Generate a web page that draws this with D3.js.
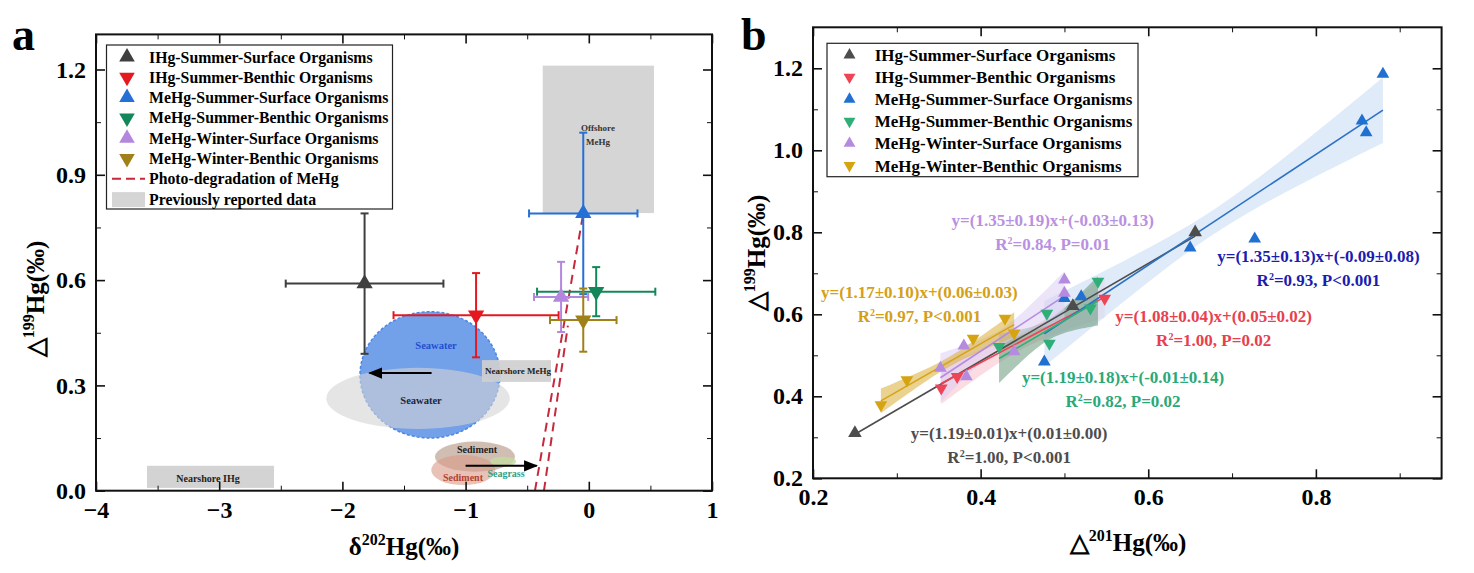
<!DOCTYPE html>
<html>
<head>
<meta charset="utf-8">
<style>
  body { margin: 0; background: #fff; }
  svg text { font-family: "Liberation Serif", "Times New Roman", serif; font-weight: bold; }
</style>
</head>
<body>
<div id="chart"></div>
<script src="https://d3js.org/d3.v7.min.js"></script>
<script>
// ---------- data: panel a ----------
const seriesNames = ["IHg-Summer-Surface Organisms", "IHg-Summer-Benthic Organisms",
  "MeHg-Summer-Surface Organisms", "MeHg-Summer-Benthic Organisms",
  "MeHg-Winter-Surface Organisms", "MeHg-Winter-Benthic Organisms"];
const aX    = [-1.82, -0.915, -0.045, 0.06, -0.225, -0.045];
const aY    = [0.59, 0.50, 0.79, 0.567, 0.552, 0.486];
const aXErr = [0.64, 0.67, 0.44, 0.48, 0.22, 0.27];
const aYErr = [0.20, 0.12, 0.23, 0.07, 0.10, 0.09];

const regionNames = ["Offshore MeHg", "Nearshore MeHg", "Nearshore IHg"];
const regionX0 = [-0.374, -0.867, -3.586];
const regionX1 = [0.529, -0.307, -2.555];
const regionY0 = [0.791, 0.31, 0.008];
const regionY1 = [1.211, 0.372, 0.071];

const ellNames = ["Seawater", "Seawater", "Sediment", "Sediment", "Seagrass"];
const ellCx = [-1.289, -1.386, -0.924, -1.019, -0.696];
const ellCy = [0.33, 0.263, 0.097, 0.059, 0.083];
const ellRx = [0.568, 0.745, 0.325, 0.26, 0.105];
const ellRy = [0.18, 0.087, 0.043, 0.043, 0.014];

// photo-degradation lines, from the x axis up to (x1, y1)
const photoX0 = [-0.437, -0.364];
const photoX1 = [-0.045, -0.17];
const photoY1 = [0.79, 0.47];

const aXTicks = [-4, -3, -2, -1, 0, 1];
const aYTicks = [0, 0.3, 0.6, 0.9, 1.2];

// ---------- data: panel b ----------
const bX = [
  [0.25, 0.51, 0.656],
  [0.353, 0.372, 0.548],
  [0.476, 0.50, 0.52, 0.65, 0.727, 0.855, 0.86, 0.88],
  [0.422, 0.479, 0.482, 0.531, 0.54],
  [0.352, 0.38, 0.383, 0.44, 0.50, 0.50],
  [0.281, 0.312, 0.391, 0.429, 0.44]
];
const bY = [
  [0.31, 0.62, 0.80],
  [0.42, 0.448, 0.639],
  [0.484, 0.639, 0.643, 0.762, 0.784, 1.072, 1.043, 1.186],
  [0.521, 0.602, 0.529, 0.615, 0.68],
  [0.469, 0.523, 0.448, 0.509, 0.652, 0.684],
  [0.379, 0.44, 0.541, 0.59, 0.554]
];
const slopes = [1.19, 1.08, 1.35, 1.19, 1.35, 1.17];
const intercepts = [0.01, 0.05, -0.09, -0.01, -0.03, 0.06];
const bandCenter = [0, 0.02, 0.03, 0.025, 0.02, 0.012];
const bandEnd = [0, 0.05, 0.08, 0.06, 0.06, 0.03];
const eqText = ["y=(1.19±0.01)x+(0.01±0.00)", "y=(1.08±0.04)x+(0.05±0.02)",
  "y=(1.35±0.13)x+(-0.09±0.08)", "y=(1.19±0.18)x+(-0.01±0.14)",
  "y=(1.35±0.19)x+(-0.03±0.13)", "y=(1.17±0.10)x+(0.06±0.03)"];
const r2Values = ["1.00", "1.00", "0.93", "0.82", "0.84", "0.97"];
const pValues = ["P<0.001", "P=0.02", "P<0.001", "P=0.02", "P=0.01", "P<0.001"];
const eqAtX = [0.434, 0.678, 0.803, 0.57, 0.486, 0.327];
const eqAtY = [0.31, 0.596, 0.742, 0.446, 0.83, 0.655];

const bXTicks = [0.2, 0.4, 0.6, 0.8];
const bYTicks = [0.2, 0.4, 0.6, 0.8, 1.0, 1.2];

// colours
const colorsA = ["#3f3f3f", "#e3191f", "#2470d6", "#13875a", "#b387dd", "#a08018"];
const colorsB = ["#4d4d4d", "#ee4455", "#2070d2", "#2fae78", "#b58be0", "#d6a312"];
const eqColors = ["#4d4d4d", "#e8404e", "#1c1cb0", "#2aa878", "#b990e2", "#d4a017"];
const bandColors = ["#999", "#f7bfcc", "#d3e3f6", "#5a8f6c", "#dccdf3", "#d8ae36"];
const bandOpac = [0, 0.55, 0.7, 0.5, 0.55, 0.55];

const W = 1474, H = 573;
const svg = d3.select("#chart").append("svg").attr("width", W).attr("height", H);

const tri = d3.symbol().type(d3.symbolTriangle);
const isUp = n => n.includes("Surface");

function frame(g, x, y, major, minorX, minorY, fmtX, fmtY, fs) {
  const [x0, x1] = x.range(), [y0, y1] = y.range();
  const ax = g.append("g");
  // inward ticks on all four sides
  const sides = [
    [d3.axisBottom(x), y0, "x"], [d3.axisTop(x), y1, "x"],
    [d3.axisLeft(y), x0, "y"], [d3.axisRight(y), x1, "y"]
  ];
  sides.forEach(([a, pos, k], i) => {
    const t = k === "x" ? `translate(0,${pos})` : `translate(${pos},0)`;
    const vals = k === "x" ? major[0] : major[1];
    const mins = k === "x" ? minorX : minorY;
    ax.append("g").attr("transform", t)
      .call(a.tickValues(mins).tickSize(-5).tickFormat(""))
      .call(s => s.select(".domain").remove());
    const gg = ax.append("g").attr("transform", t)
      .call(a.tickValues(vals).tickSize(-9).tickPadding(10)
        .tickFormat(i < 2 ? fmtX : fmtY))
      .call(s => s.select(".domain").remove());
    gg.selectAll("line").attr("stroke-width", 1.6);
    gg.selectAll("text").attr("font-size", fs).attr("fill", "#000")
      .attr("font-family", "Liberation Serif").attr("font-weight", "bold");
    if (i % 2 === 1) gg.selectAll("text").remove();
  });
  ax.selectAll("line").attr("stroke", "#111");
  g.append("rect").attr("x", x0).attr("y", y1).attr("width", x1 - x0).attr("height", y0 - y1)
    .attr("fill", "none").attr("stroke", "#111").attr("stroke-width", 2);
}

// ================= panel a =================
const xa = d3.scaleLinear().domain([-4, 1]).range([96, 712]);
const ya = d3.scaleLinear().domain([0, 1.3]).range([490.7, 34.4]);
const ga = svg.append("g");

// offshore region sits under everything else
ga.append("rect").attr("x", xa(regionX0[0])).attr("y", ya(regionY1[0]))
  .attr("width", xa(regionX1[0]) - xa(regionX0[0])).attr("height", ya(regionY0[0]) - ya(regionY1[0]))
  .attr("fill", "#d5d5d5");

// ellipses
const ellFill = ["#6b9ce8", "#d4d4d4", "#c9b3a6", "#d99a85", "#c6dba0"];
const ellOp = [0.95, 0.6, 0.85, 0.6, 0.8];
ellNames.forEach((n, i) => {
  ga.append("ellipse").attr("cx", xa(ellCx[i])).attr("cy", ya(ellCy[i]))
    .attr("rx", xa(ellCx[i] + ellRx[i]) - xa(ellCx[i]))
    .attr("ry", ya(ellCy[i]) - ya(ellCy[i] + ellRy[i]))
    .attr("fill", ellFill[i]).attr("fill-opacity", ellOp[i])
    .attr("stroke", i === 0 ? "#4b86e6" : "none").attr("stroke-dasharray", "3,2")
    .attr("stroke-width", 1.5);
});

regionNames.forEach((n, i) => {
  if (i === 0) return;
  ga.append("rect").attr("x", xa(regionX0[i])).attr("y", ya(regionY1[i]))
    .attr("width", xa(regionX1[i]) - xa(regionX0[i])).attr("height", ya(regionY0[i]) - ya(regionY1[i]))
    .attr("fill", "#cfcfcf").attr("fill-opacity", 0.92);
});

// annotation texts
const notes = [
  ["Seawater", -1.24, 0.413, "#1f4fd0", 10.5],
  ["Seawater", -1.362, 0.258, "#1c2540", 10.5],
  ["Nearshore MeHg", -0.575, 0.342, "#222", 9],
  ["Offshore", 0.075, 1.033, "#333", 9],
  ["MeHg", 0.075, 0.994, "#333", 9],
  ["Nearshore IHg", -3.091, 0.036, "#222", 10],
  ["Sediment", -0.907, 0.116, "#222", 10],
  ["Sediment", -1.021, 0.039, "#b3432f", 10],
  ["Seagrass", -0.672, 0.048, "#2f9f86", 10]
];
notes.forEach(([t, x, y, c, fs]) => {
  ga.append("text").attr("x", xa(x)).attr("y", ya(y)).attr("dy", "0.35em")
    .attr("text-anchor", "middle").attr("font-size", fs).attr("fill", c).text(t);
});

// arrows
svg.append("defs").append("marker").attr("id", "ah").attr("viewBox", "0 0 10 10")
  .attr("refX", 9).attr("refY", 5).attr("markerWidth", 7).attr("markerHeight", 7)
  .attr("orient", "auto-start-reverse")
  .append("path").attr("d", "M0,1 L10,5 L0,9 z").attr("fill", "#000");
[[-1.276, -1.78, 0.335], [-1.0, -0.423, 0.071]].forEach(([x0, x1, y]) => {
  ga.append("line").attr("x1", xa(x0)).attr("x2", xa(x1)).attr("y1", ya(y)).attr("y2", ya(y))
    .attr("stroke", "#000").attr("stroke-width", 2).attr("marker-end", "url(#ah)");
});

// photo-degradation dashed lines
photoX0.forEach((x0, i) => {
  ga.append("line").attr("x1", xa(x0)).attr("y1", ya(0)).attr("x2", xa(photoX1[i])).attr("y2", ya(photoY1[i]))
    .attr("stroke", "#c42a3c").attr("stroke-width", 2).attr("stroke-dasharray", "9,6");
});

// error bars + markers
seriesNames.forEach((n, i) => {
  const c = colorsA[i], cx = xa(aX[i]), cy = ya(aY[i]);
  const g = ga.append("g").attr("stroke", c).attr("stroke-width", 2);
  const xl = xa(aX[i] - aXErr[i]), xr = xa(aX[i] + aXErr[i]);
  const yt = ya(aY[i] + aYErr[i]), yb = ya(aY[i] - aYErr[i]);
  g.append("line").attr("x1", xl).attr("x2", xr).attr("y1", cy).attr("y2", cy);
  g.append("line").attr("x1", cx).attr("x2", cx).attr("y1", yt).attr("y2", yb);
  [xl, xr].forEach(x => g.append("line").attr("x1", x).attr("x2", x).attr("y1", cy - 4).attr("y2", cy + 4));
  [yt, yb].forEach(y => g.append("line").attr("x1", cx - 4).attr("x2", cx + 4).attr("y1", y).attr("y2", y));
});
seriesNames.forEach((n, i) => {
  ga.append("path").attr("d", tri.size(115)())
    .attr("transform", `translate(${xa(aX[i])},${ya(aY[i])})` + (isUp(n) ? "" : " rotate(180)"))
    .attr("fill", colorsA[i]);
});

frame(ga, xa, ya, [aXTicks, aYTicks], d3.range(-3.5, 1, 1), [0.15, 0.45, 0.75, 1.05],
  d3.format("d"), d3.format(".1f"), 24);

// legend a
const lga = ga.append("g");
lga.append("rect").attr("x", 106.5).attr("y", 45).attr("width", 286).attr("height", 164)
  .attr("fill", "#fff").attr("stroke", "#222").attr("stroke-width", 1.2);
const legA = seriesNames.concat(["Photo-degradation of MeHg", "Previously reported data"]);
legA.forEach((n, i) => {
  const y = 57 + i * 20.3;
  if (i < 6) {
    lga.append("path").attr("d", tri.size(105)())
      .attr("transform", `translate(127,${y})` + (isUp(n) ? "" : " rotate(180)")).attr("fill", colorsA[i]);
  } else if (i === 6) {
    lga.append("line").attr("x1", 112).attr("x2", 145).attr("y1", y).attr("y2", y)
      .attr("stroke", "#c42a3c").attr("stroke-width", 2).attr("stroke-dasharray", "9,5");
  } else {
    lga.append("rect").attr("x", 112).attr("y", y - 7).attr("width", 33).attr("height", 15).attr("fill", "#d5d5d5");
  }
  lga.append("text").attr("x", 149).attr("y", y + 5.5).attr("font-size", 15.8).text(n);
});

// axis titles a
const xta = ga.append("text").attr("x", 404).attr("y", 555).attr("text-anchor", "middle").attr("font-size", 25);
xta.append("tspan").text("δ");
xta.append("tspan").attr("dy", -10).attr("font-size", 16).text("202");
xta.append("tspan").attr("dy", 10).text("Hg(‰)");
const yta = ga.append("text").attr("transform", "translate(44,299) rotate(-90)").attr("text-anchor", "middle").attr("font-size", 25);
yta.append("tspan").text("△");
yta.append("tspan").attr("dy", -10).attr("font-size", 16).text("199");
yta.append("tspan").attr("dy", 10).text("Hg(‰)");
ga.append("text").attr("x", 12).attr("y", 50).attr("font-size", 46).text("a");

// ================= panel b =================
const xb = d3.scaleLinear().domain([0.2, 0.95]).range([813, 1441.6]);
const yb = d3.scaleLinear().domain([0.2, 1.3]).range([478.3, 27.3]);
const gb = svg.append("g");

// confidence bands
seriesNames.forEach((n, i) => {
  if (!bandOpac[i]) return;
  const lo = d3.min(bX[i]), hi = d3.max(bX[i]), mid = (lo + hi) / 2;
  const hw = x => Math.sqrt(bandCenter[i] ** 2 + (bandEnd[i] ** 2 - bandCenter[i] ** 2) * ((x - mid) / (hi - mid)) ** 2);
  const xs = d3.range(0, 31).map(k => lo + (hi - lo) * k / 30);
  const fit = x => slopes[i] * x + intercepts[i];
  gb.append("path").datum(xs)
    .attr("d", d3.area().x(d => xb(d)).y0(d => yb(fit(d) - hw(d))).y1(d => yb(fit(d) + hw(d))))
    .attr("fill", bandColors[i]).attr("fill-opacity", bandOpac[i]);
});
// fitted lines
seriesNames.forEach((n, i) => {
  const lo = d3.min(bX[i]), hi = d3.max(bX[i]);
  gb.append("line").attr("x1", xb(lo)).attr("y1", yb(slopes[i] * lo + intercepts[i]))
    .attr("x2", xb(hi)).attr("y2", yb(slopes[i] * hi + intercepts[i]))
    .attr("stroke", i === 2 ? "#2c72c4" : colorsB[i]).attr("stroke-width", 1.6);
});
// points
seriesNames.forEach((n, i) => {
  bX[i].forEach((x, k) => {
    gb.append("path").attr("d", tri.size(i === 0 ? 80 : 70)())
      .attr("transform", `translate(${xb(x)},${yb(bY[i][k])})` + (isUp(n) ? "" : " rotate(180)"))
      .attr("fill", colorsB[i]);
  });
});
// equations
seriesNames.forEach((n, i) => {
  const x = xb(eqAtX[i]), y = yb(eqAtY[i]);
  gb.append("text").attr("x", x).attr("y", y).attr("dy", "0.35em").attr("text-anchor", "middle")
    .attr("font-size", 17).attr("fill", eqColors[i]).text(eqText[i]);
  const t = gb.append("text").attr("x", x).attr("y", y + 24).attr("dy", "0.35em").attr("text-anchor", "middle")
    .attr("font-size", 17).attr("fill", eqColors[i]);
  t.append("tspan").text("R");
  t.append("tspan").attr("dy", -6).attr("font-size", 10).text("2");
  t.append("tspan").attr("dy", 6).text(`=${r2Values[i]}, ${pValues[i]}`);
});

frame(gb, xb, yb, [bXTicks, bYTicks], [0.3, 0.5, 0.7, 0.9], [0.3, 0.5, 0.7, 0.9, 1.1],
  d3.format(".1f"), d3.format(".1f"), 24);

// legend b
const lgb = gb.append("g");
lgb.append("rect").attr("x", 827).attr("y", 43.3).attr("width", 311).attr("height", 133.4)
  .attr("fill", "#fff").attr("stroke", "#222").attr("stroke-width", 1.2);
seriesNames.forEach((n, i) => {
  const y = 55 + i * 22.1;
  lgb.append("path").attr("d", tri.size(62)())
    .attr("transform", `translate(849.5,${y})` + (isUp(n) ? "" : " rotate(180)")).attr("fill", colorsB[i]);
  lgb.append("text").attr("x", 874.7).attr("y", y + 6).attr("font-size", 17).text(n);
});

const xtb = gb.append("text").attr("x", 1128).attr("y", 551).attr("text-anchor", "middle").attr("font-size", 25);
xtb.append("tspan").text("△");
xtb.append("tspan").attr("dy", -10).attr("font-size", 16).text("201");
xtb.append("tspan").attr("dy", 10).text("Hg(‰)");
const ytb = gb.append("text").attr("transform", "translate(765,253) rotate(-90)").attr("text-anchor", "middle").attr("font-size", 25);
ytb.append("tspan").text("△");
ytb.append("tspan").attr("dy", -10).attr("font-size", 16).text("199");
ytb.append("tspan").attr("dy", 10).text("Hg(‰)");
gb.append("text").attr("x", 741).attr("y", 50).attr("font-size", 46).text("b");
</script>
</body>
</html>
